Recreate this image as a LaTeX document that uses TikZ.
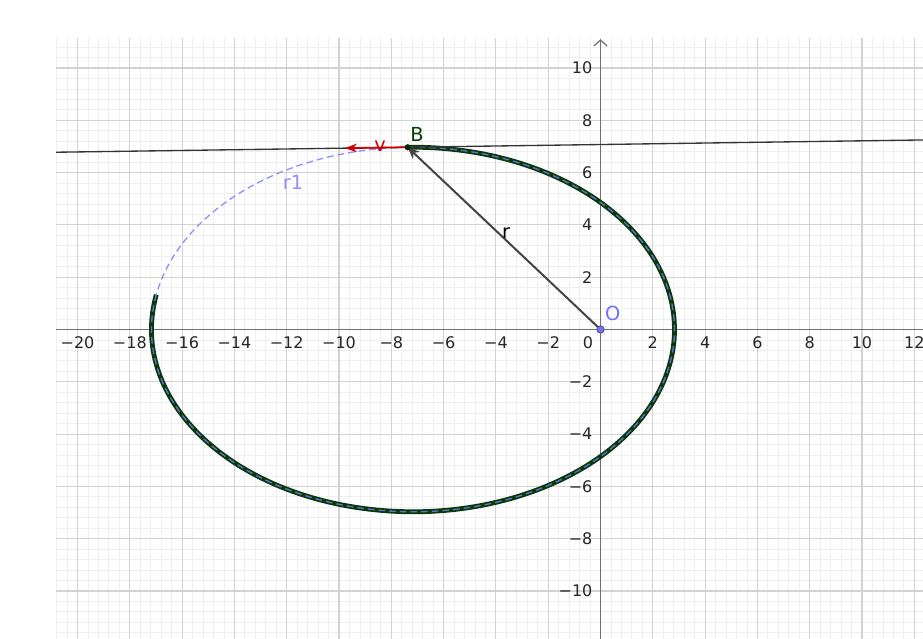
\documentclass[tikz,border=0pt]{standalone}
\usepackage{fontspec}
\setmainfont{DejaVu Sans}
\usetikzlibrary{arrows.meta}
\definecolor{majorgrid}{HTML}{D2D2D2}
\definecolor{minorgrid}{HTML}{EFEFEF}
\definecolor{axisgray}{HTML}{707070}
\definecolor{tracegreen}{HTML}{0A380A}
\definecolor{ronecol}{HTML}{9090FA}
\definecolor{ronedark}{HTML}{5E72D0}
\definecolor{vred}{HTML}{CC0000}
\definecolor{Bgreen}{HTML}{004000}
\definecolor{Oblue}{HTML}{7070FF}
\definecolor{rgray}{HTML}{444444}
\tikzset{
  axisline/.style={axisgray, line width=0.9pt},
  ticklab/.style={inner sep=1pt, font=\fontsize{12}{14}\selectfont, text=black!85},
  biglab/.style={inner sep=0pt, font=\fontsize{14.5}{16}\selectfont},
  rdash/.style={line width=1pt, dash pattern=on 5pt off 3pt},
}
\begin{document}
\begin{tikzpicture}[x=19.6125pt,y=19.6125pt]
\useasboundingbox (-22.964,-11.836) rectangle (12.333,12.600);
\fill[white] (-22.964,-11.836) rectangle (12.333,12.600);
% grid
\begin{scope}
\clip (-20.822,-11.836) rectangle (12.333,11.147);
\draw[minorgrid, line width=0.6pt] (-20.822,-11.836) grid[step=0.4] (12.333,11.147);
\draw[majorgrid, line width=0.8pt] (-20.822,-11.836) grid[step=2] (12.333,11.147);
\end{scope}
% axes
\coordinate (xl) at (-20.822,0);
\coordinate (xr) at (12.6,0);
\coordinate (yb) at (0,-11.9);
\coordinate (yt) at (0,11.1);
\draw[axisline] (xl) -- (xr);
\draw[axisline, -{Straight Barb[length=4.5pt,width=10pt]}] (yb) -- (yt);
% tick labels
\foreach \v in {2,4,...,12} {
  \node[ticklab, anchor=north] (xp\v) at (\v,-0.22) {\v};
  \node[ticklab, anchor=north] (xm\v) at (-\v,-0.22) {−\v};
}
\node[ticklab, anchor=north] (xm14) at (-14,-0.22) {−14};
\node[ticklab, anchor=north] (xm16) at (-16,-0.22) {−16};
\node[ticklab, anchor=north] (xm18) at (-18,-0.22) {−18};
\node[ticklab, anchor=north] (xm20) at (-20,-0.22) {−20};
\foreach \v in {2,4,...,10} {
  \node[ticklab, anchor=east] (yp\v) at (-0.25,\v) {\v};
  \node[ticklab, anchor=east] (ym\v) at (-0.25,-\v) {−\v};
}
\node[ticklab, anchor=north east] (zero) at (-0.22,-0.22) {0};
% ellipse
\coordinate (C) at (-7.17,0);
\draw[tracegreen, line width=3.6pt] ([shift={(169:10 and 6.97)}]C) arc[start angle=169, end angle=451.17, x radius=10, y radius=6.97];
\draw[ronecol, rdash] ([shift={(91.17:10 and 6.97)}]C) arc[start angle=91.17, end angle=169, x radius=10, y radius=6.97];
\draw[ronedark, rdash] ([shift={(169:10 and 6.97)}]C) arc[start angle=169, end angle=451.17, x radius=10, y radius=6.97];
% tangent line
\coordinate (T1) at (-20.822,6.778);
\coordinate (T2) at (12.4,7.249);
\draw[black!80, line width=1pt] (T1) -- (T2);
% points
\coordinate (B) at (-7.374,6.9686);
\coordinate (O) at (0,0);
\coordinate (Vend) at (-9.77,6.935);
% vectors
\draw[vred, line width=1.3pt, -{Stealth[length=9pt,width=6.5pt]}] (B) -- (Vend);
\draw[rgray, line width=1.5pt, -{Stealth[length=9pt,width=7.5pt]}] (O) -- (B);
\fill[black!85!green] (B) circle (2.3pt);
\filldraw[fill=Oblue, draw=black!70, line width=0.5pt] (O) circle (2.8pt);
% labels
\node[biglab, text=Bgreen] (Blab) at (-7.02,7.46) {B};
\node[biglab, text=vred] (vlab) at (-8.43,7.02) {v};
\node[biglab, text=black] (rlab) at (-3.61,3.69) {r};
\node[biglab, text=ronecol] (r1lab) at (-11.76,5.64) {r1};
\node[biglab, text=Oblue] (Olab) at (0.47,0.62) {O};
\end{tikzpicture}
\end{document}
